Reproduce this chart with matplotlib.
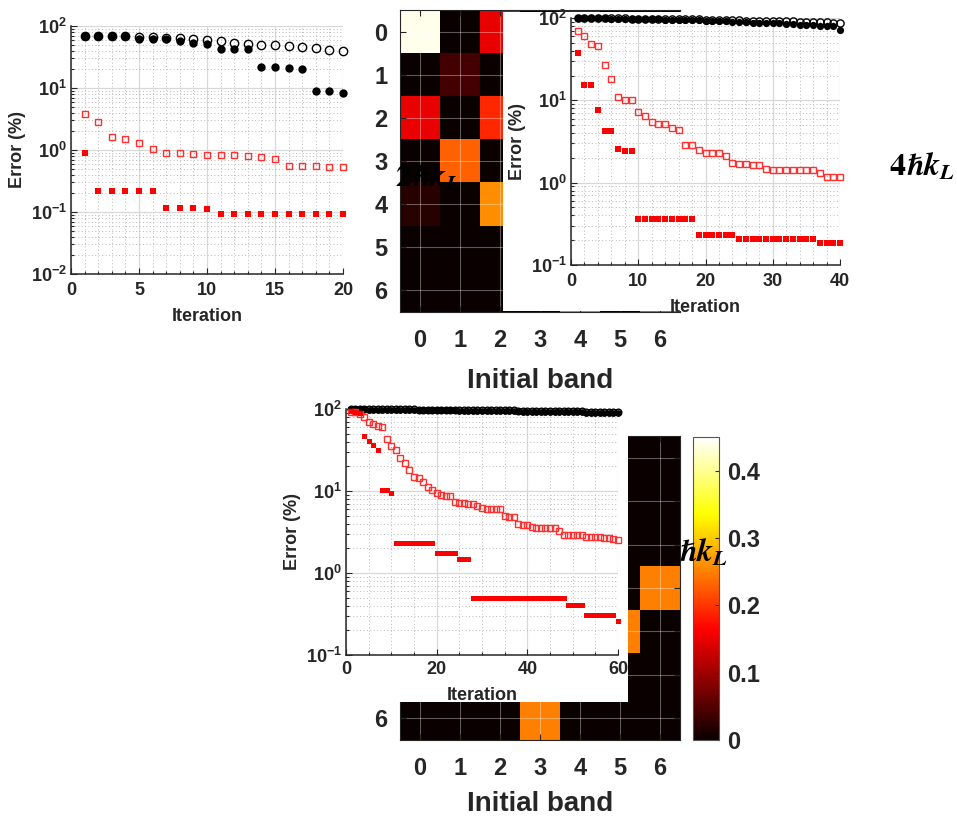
import matplotlib
matplotlib.use("Agg")
import matplotlib.pyplot as plt
import numpy as np
from matplotlib.patches import Rectangle
from matplotlib.ticker import MultipleLocator, LogLocator, NullFormatter

plt.rcParams['font.family'] = ['Liberation Sans', 'DejaVu Sans']
plt.rcParams['font.weight'] = 'bold'
plt.rcParams['mathtext.fontset'] = 'custom'
plt.rcParams['mathtext.rm'] = 'Liberation Sans:bold'
plt.rcParams['mathtext.it'] = 'Liberation Sans:bold:italic'
plt.rcParams['mathtext.bf'] = 'Liberation Sans:bold'
plt.rcParams['mathtext.default'] = 'rm'

W, H = 957, 818
GREY = '#262626'

# ---- data ----
bands = [0, 1, 2, 3, 4, 5, 6]

# 2hk_L panel (20 iterations)
it20 = np.arange(1, 21)
tl_open_black = [70, 70, 70, 70, 67, 67, 65, 65, 62.5, 60, 56.6, 54, 52, 50, 49, 47, 46, 44, 41, 40]
tl_fill_black = [69, 69, 69, 69, 61, 61, 61, 58, 54, 51, 42, 42, 42, 22, 21.5, 21, 20.5, 9.1, 8.8, 8.2]
tl_open_red = [3.8, 2.83, 1.64, 1.52, 1.31, 1.05, 0.88, 0.88, 0.86, 0.84, 0.84, 0.84, 0.8, 0.78, 0.71,
               0.55, 0.55, 0.55, 0.54, 0.54]
tl_fill_red = [0.88, 0.22, 0.22, 0.22, 0.22, 0.22, 0.116, 0.116, 0.116, 0.113, 0.093, 0.093, 0.093,
               0.093, 0.093, 0.093, 0.093, 0.093, 0.093, 0.093]

# 4hk_L panel (40 iterations)
it40 = np.arange(1, 41)
r_open_black = [100, 100, 100, 100, 99, 99, 99, 99, 98, 98, 98, 98, 97, 97, 97, 97, 96, 96, 96, 95,
                95, 95, 94, 94, 94, 93, 93, 93, 92, 92, 92, 91, 91, 90, 90, 90, 89, 89, 88, 86]
r_fill_black = [100, 100, 99, 99, 99, 98, 98, 97, 97, 97, 96, 96, 96, 95, 95, 95, 94, 94, 94, 93,
                92, 92, 91, 90, 90, 89, 88, 88, 87, 86, 86, 85, 84, 83, 82, 82, 81, 80, 79, 71]
r_open_red = [70, 60, 49, 46, 26.8, 18.2, 10.9, 10, 10, 7.3, 6.5, 5.5, 5.2, 5.1, 4.6, 4.4, 2.9, 2.9,
              2.5, 2.3, 2.3, 2.3, 2.1, 1.71, 1.7, 1.7, 1.65, 1.65, 1.48, 1.42, 1.42, 1.42, 1.42, 1.42,
              1.42, 1.42, 1.3, 1.18, 1.18, 1.18]
r_fill_red = [38, 15.3, 15.3, 7.6, 4.2, 4.2, 2.56, 2.42, 2.42, 0.36, 0.36, 0.36, 0.36, 0.36, 0.36,
              0.36, 0.36, 0.36, 0.229, 0.229, 0.229, 0.229, 0.229, 0.229, 0.205, 0.205, 0.205, 0.205,
              0.205, 0.205, 0.205, 0.205, 0.205, 0.205, 0.205, 0.205, 0.183, 0.183, 0.183, 0.183]

# 6hk_L panel (60 iterations)
it60 = np.arange(1, 61)
b_open_black = [100, 100, 100, 100, 100, 100, 99.5, 99.5, 99.5, 99.5, 99, 99, 99, 99, 99, 98.5, 98.5,
                98.5, 98.5, 98, 98, 98, 98, 97.5, 97.5, 97.5, 97.5, 97, 97, 97, 97, 96.5, 96.5, 96.5,
                96, 96, 96, 95.5, 95.5, 95.5, 95, 95, 95, 94.5, 94.5, 94.5, 94, 94, 94, 93.5, 93.5, 93.5,
                93, 93, 93, 93, 92.5, 92.5, 92.5, 92.5]
b_fill_black = [99, 99, 99, 99, 98.5, 98.5, 98.5, 98.5, 98, 98, 98, 98, 97.5, 97.5, 97.5, 97, 97, 97,
                96.5, 96.5, 96.5, 96, 96, 96, 95.5, 95.5, 95.5, 95, 95, 95, 94.5, 94.5, 94.5, 94, 94,
                93.5, 93.5, 93.5, 93, 93, 93, 92.5, 92.5, 92, 92, 92, 91.5, 91.5, 91.5, 91, 91, 91,
                90.5, 90.5, 90.5, 90, 90, 90, 90, 89.5]
b_open_red = [93, 93, 88, 80, 70, 65, 62, 61, 43, 35, 31.6, 25, 22, 18, 14.7, 14.3, 13, 11.3, 10.3, 9.4,
              9.0, 8.8, 8.7, 7.4, 7.2, 7.2, 7.0, 6.9, 6.6, 6.15, 6.0, 6.0, 6.0, 6.0, 4.9, 4.8, 4.8, 4.0,
              3.9, 3.9, 3.6, 3.55, 3.55, 3.55, 3.55, 3.5, 3.25, 2.9, 2.9, 2.9, 2.9, 2.9, 2.75, 2.75,
              2.75, 2.75, 2.65, 2.65, 2.6, 2.5]
b_fill_red = [95, 93, 90, 47, 41, 36.4, 31.6, 10.3, 10.3, 9.4, 2.3, 2.3, 2.3, 2.3, 2.3, 2.3, 2.3, 2.3,
              2.3, 1.74, 1.74, 1.74, 1.74, 1.74, 1.47, 1.47, 1.47, 0.49, 0.49, 0.49, 0.49, 0.49, 0.49,
              0.49, 0.49, 0.49, 0.49, 0.49, 0.49, 0.49, 0.49, 0.49, 0.49, 0.49, 0.49, 0.49, 0.49, 0.49,
              0.41, 0.41, 0.41, 0.41, 0.31, 0.31, 0.31, 0.31, 0.31, 0.31, 0.31, 0.26]

# population maps (rows: final band, columns: initial band)
pop_2hk = [[0.44, 0.0, 0.15, 0.0, 0.10, 0.0, 0.0],
           [0.0, 0.04, 0.0, 0.12, 0.0, 0.08, 0.0],
           [0.15, 0.0, 0.19, 0.0, 0.14, 0.0, 0.06],
           [0.0, 0.23, 0.0, 0.20, 0.0, 0.15, 0.0],
           [0.02, 0.0, 0.26, 0.0, 0.18, 0.0, 0.12],
           [0.0, 0.0, 0.0, 0.25, 0.0, 0.20, 0.0],
           [0.0, 0.0, 0.0, 0.0, 0.25, 0.0, 0.22]]
pop_6hk = [[0.44, 0.0, 0.0, 0.0, 0.0, 0.0, 0.0],
           [0.0, 0.30, 0.0, 0.0, 0.0, 0.0, 0.0],
           [0.0, 0.0, 0.30, 0.0, 0.0, 0.0, 0.0],
           [0.20, 0.0, 0.0, 0.30, 0.0, 0.0, 0.25],
           [0.0, 0.20, 0.0, 0.0, 0.20, 0.25, 0.0],
           [0.0, 0.0, 0.20, 0.0, 0.0, 0.0, 0.0],
           [0.0, 0.0, 0.0, 0.25, 0.0, 0.0, 0.0]]
cbar_ticks = [0, 0.1, 0.2, 0.3, 0.4]


def box(x0, y0, x1, y1):
    return [x0 / W, 1 - y1 / H, (x1 - x0) / W, (y1 - y0) / H]


def cover(x0, y0, x1, y1, z):
    fig.add_artist(Rectangle((x0 / W, 1 - y1 / H), (x1 - x0) / W, (y1 - y0) / H,
                             transform=fig.transFigure, facecolor='white',
                             edgecolor='none', zorder=z))


def hk_label(x, y, n, z):
    fig.text(x / W, 1 - y / H, r'$%d\hslash\mathit{k}_\mathit{L}$' % n, fontsize=23,
             fontweight='normal', math_fontfamily='stix', ha='center', va='center',
             color='black', zorder=z)


def error_panel(rect, it, ob, fb, orr, fr, xmax, xstep, xminor, ymin, ms, fs, xpad, lpad):
    ax = fig.add_axes(rect, zorder=3)
    ax.plot(it, ob, 'o', mfc='none', mec='k', ms=ms[0], mew=1.0, clip_on=False)
    ax.plot(it, fb, 'o', color='k', ms=ms[0], mew=0, clip_on=False)
    ax.plot(it, orr, 's', mfc='none', mec='#ff3030', ms=ms[1], mew=1.0, clip_on=False)
    ax.plot(it, fr, 's', color='#ff0000', ms=ms[2], mew=0, clip_on=False)
    ax.set_yscale('log')
    ax.set_ylim(ymin, 100)
    ax.set_xlim(0, xmax)
    ax.xaxis.set_major_locator(MultipleLocator(xstep))
    ax.xaxis.set_minor_locator(MultipleLocator(xminor))
    ax.yaxis.set_major_locator(LogLocator(base=10))
    ax.yaxis.set_minor_locator(LogLocator(base=10, subs=np.arange(2, 10)))
    ax.yaxis.set_minor_formatter(NullFormatter())
    ax.grid(True, which='major', color='#d8d8d8', lw=0.9)
    ax.grid(True, which='minor', color='#b8b8b8', lw=0.7, ls=(0, (1, 2.5)))
    ax.set_axisbelow(True)
    for s in ['top', 'right']:
        ax.spines[s].set_visible(False)
    for s in ['left', 'bottom']:
        ax.spines[s].set_color(GREY)
        ax.spines[s].set_linewidth(1.1)
    ax.tick_params(which='both', direction='in', colors=GREY, labelsize=fs, width=0.8)
    ax.tick_params(which='major', length=4)
    ax.tick_params(which='minor', length=2)
    ax.tick_params(axis='x', pad=xpad)
    ax.tick_params(axis='y', pad=3)
    ax.set_xlabel('Iteration', fontsize=fs, fontweight='bold', color=GREY, labelpad=lpad)
    ax.set_ylabel('Error (%)', fontsize=fs, fontweight='bold', color=GREY, labelpad=3)
    return ax


def heatmap(rect, data, lpad):
    ax = fig.add_axes(rect, zorder=1)
    im = ax.imshow(data, cmap='hot', vmin=0, vmax=0.45, aspect='auto',
                   interpolation='nearest', extent=(-0.5, 6.5, 6.5, -0.5))
    ax.set_xticks(bands)
    ax.set_yticks(bands)
    ax.grid(True, color='#ffffff', alpha=0.35, lw=0.8)
    ax.tick_params(direction='in', top=True, right=True, length=4, colors=GREY,
                   labelsize=17, width=0.8)
    ax.tick_params(axis='x', pad=12)
    ax.tick_params(axis='y', pad=9)
    for s in ax.spines.values():
        s.set_color(GREY)
        s.set_linewidth(0.8)
    ax.set_xlabel('Initial band', fontsize=20, fontweight='bold', color=GREY, labelpad=lpad)
    return ax, im


fig = plt.figure(figsize=(W / 100, H / 100), dpi=100)

# upper map + 2hk / 4hk panels
heatmap(box(400, 10, 680, 312), pop_2hk, 12)
hk_label(428, 178, 2, 1.5)
error_panel(box(71, 26, 343, 274), it20, tl_open_black, tl_fill_black, tl_open_red, tl_fill_red,
            20, 5, 1, 0.01, (6.0, 5.0, 4.0), 13, 6, 6)
cover(503, 12, 880, 311, 2)
error_panel(box(571, 18, 840, 265), it40, r_open_black, r_fill_black, r_open_red, r_fill_red,
            40, 10, 2, 0.1, (5.2, 5.0, 3.9), 13, 6, 6)
hk_label(922, 167, 4, 3)

# lower map + 6hk panel
_, im = heatmap(box(400, 436, 680, 740), pop_6hk, 8)
cax = fig.add_axes(box(693, 437, 719, 740), zorder=0.2)
cb = fig.colorbar(im, cax=cax, ticks=cbar_ticks)
cb.ax.set_yticklabels(['0', '0.1', '0.2', '0.3', '0.4'])
cb.outline.set_edgecolor('#555555')
cb.outline.set_linewidth(0.8)
cax.tick_params(direction='in', length=3, colors=GREY, labelsize=17, pad=6, width=0.8)
hk_label(695, 553, 6, 0.5)
cover(280, 395, 628, 702, 2)
error_panel(box(346, 409, 618, 655), it60, b_open_black, b_fill_black, b_open_red, b_fill_red,
            60, 20, 5, 0.1, (4.8, 4.6, 3.6), 13, 4, 7)

fig.savefig('out.png', dpi=100, facecolor='white')
